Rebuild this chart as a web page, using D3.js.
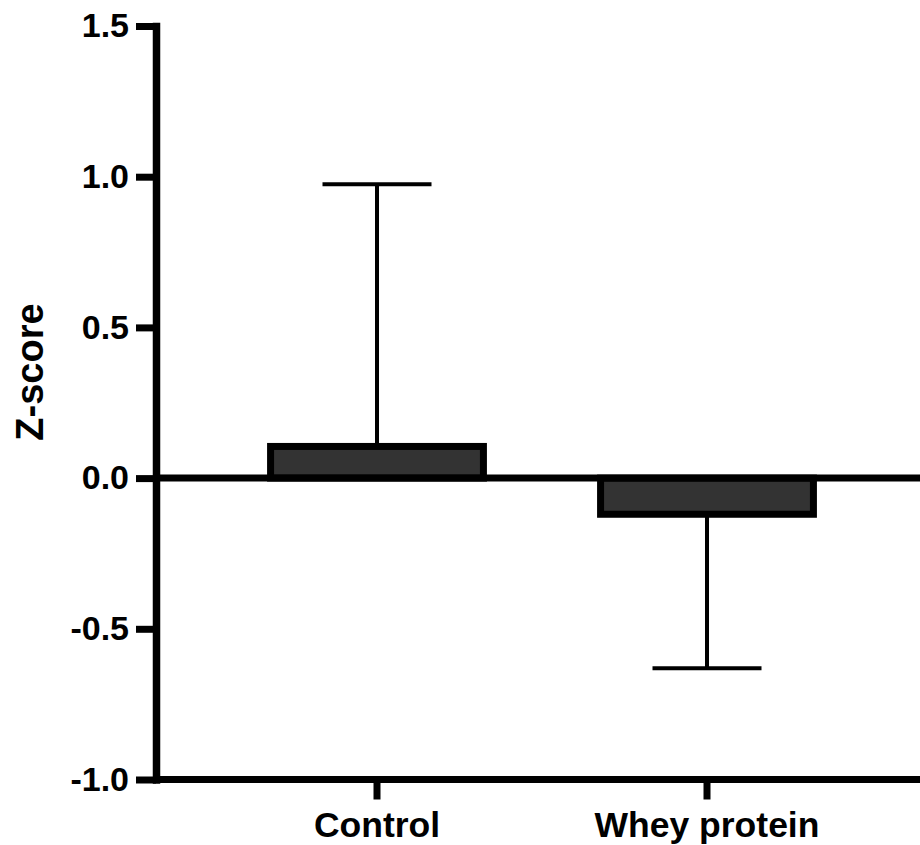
<!DOCTYPE html>
<html>
<head>
<meta charset="utf-8">
<script src="https://cdn.jsdelivr.net/npm/d3@7"></script>
<style>
  body { margin: 0; background: #fff; }
  svg { display: block; font-family: Arial, "Liberation Sans", sans-serif; font-weight: bold; }
</style>
</head>
<body>
<svg id="chart"></svg>
<script>
// data
var groups = ["Control", "Whey protein"];
var means = [0.105, -0.12];
var errors = [0.87, 0.511];
var yTicks = [-1.0, -0.5, 0.0, 0.5, 1.0, 1.5];
var yLabel = "Z-score";

var width = 920, height = 845;
var svg = d3.select("#chart").attr("width", width).attr("height", height);

var axisX = 156;   // left axis position
var y = d3.scaleLinear().domain([-1, 1.5]).range([779.5, 26]);

var x = d3.scaleBand()
  .domain(groups)
  .range([212, 872])
  .paddingInner(0.355)
  .paddingOuter(0.1775);

var data = groups.map(function (g, i) { return { name: g, mean: means[i], err: errors[i] }; });

// error bars (one sided, away from zero)
var eb = svg.append("g");
data.forEach(function (d) {
  var cx = x(d.name) + x.bandwidth() / 2;
  var end = d.mean >= 0 ? d.mean + d.err : d.mean - d.err;
  eb.append("line")
    .attr("x1", cx).attr("x2", cx)
    .attr("y1", y(d.mean)).attr("y2", y(end))
    .attr("stroke", "#000").attr("stroke-width", 4);
  eb.append("line")
    .attr("x1", cx - 54.5).attr("x2", cx + 54.5)
    .attr("y1", y(end)).attr("y2", y(end))
    .attr("stroke", "#000").attr("stroke-width", 4);
});

// bars
svg.append("g").selectAll("rect")
  .data(data)
  .enter()
  .append("rect")
  .attr("x", function (d) { return x(d.name); })
  .attr("width", x.bandwidth())
  .attr("y", function (d) { return y(Math.max(0, d.mean)); })
  .attr("height", function (d) { return Math.abs(y(d.mean) - y(0)); })
  .attr("fill", "#333333")
  .attr("stroke", "#000")
  .attr("stroke-width", 7);

// zero line
svg.append("line")
  .attr("x1", axisX).attr("x2", width)
  .attr("y1", y(0)).attr("y2", y(0))
  .attr("stroke", "#000").attr("stroke-width", 7);

// y axis
var yAxis = svg.append("g")
  .attr("transform", "translate(" + axisX + ",0)")
  .call(d3.axisLeft(y)
    .tickValues(yTicks)
    .tickSize(20)
    .tickSizeOuter(0)
    .tickPadding(7)
    .tickFormat(d3.format(".1f")));
yAxis.select(".domain").attr("stroke-width", 7.5).attr("stroke-linecap", "square");
yAxis.selectAll(".tick line").attr("stroke-width", 7);
yAxis.selectAll(".tick text")
  .attr("fill", "#000")
  .style("font-size", "34px")
  .style("font-weight", "bold")
  .text(function (d) { return d3.format(".1f")(d).replace("−", "-"); });

// x axis
var xAxis = svg.append("g")
  .attr("transform", "translate(0," + y(-1) + ")")
  .call(d3.axisBottom(x)
    .tickSize(20)
    .tickSizeOuter(0)
    .tickPadding(12));
xAxis.select(".domain").attr("d", "M" + axisX + ",0H" + width).attr("stroke-width", 7);
xAxis.selectAll(".tick line").attr("stroke-width", 7);
xAxis.selectAll(".tick text")
  .attr("fill", "#000")
  .style("font-size", "35.5px")
  .style("font-weight", "bold");

// y label
svg.append("text")
  .attr("transform", "translate(43,372) rotate(-90)")
  .attr("text-anchor", "middle")
  .style("font-size", "38px")
  .text(yLabel);
</script>
</body>
</html>
